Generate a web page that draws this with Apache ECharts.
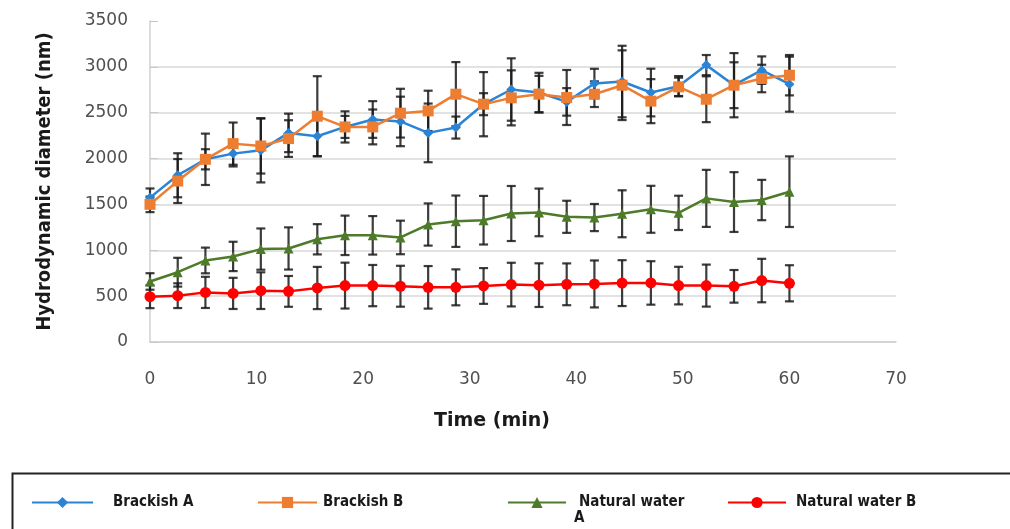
<!DOCTYPE html>
<html>
<head>
<meta charset="utf-8">
<script src="https://cdn.jsdelivr.net/npm/echarts@6/dist/echarts.min.js"></script>
<style>html,body{margin:0;padding:0;background:#fff;}#chart{width:1010px;height:529px;}</style>
</head>
<body>
<div id="chart"></div>
<script>
// Time points (min)
var times = [0, 2.6, 5.2, 7.8, 10.4, 13.0, 15.7, 18.3, 20.9, 23.5, 26.1, 28.7, 31.3, 33.9, 36.5, 39.1, 41.7, 44.3, 47.0, 49.6, 52.2, 54.8, 57.4, 60];
var xTicks = [0, 10, 20, 30, 40, 50, 60, 70];
var yTicks = [0, 500, 1000, 1500, 2000, 2500, 3000, 3500];

var brackishA    = [1574, 1818, 1992, 2054, 2090, 2280, 2243, 2345, 2426, 2405, 2280, 2338, 2593, 2753, 2720, 2618, 2819, 2840, 2720, 2789, 3019, 2800, 2964, 2811];
var brackishAErr = [100, 240, 110, 140, 350, 210, 218, 120, 200, 270, 320, 120, 350, 340, 215, 150, 160, 390, 260, 110, 110, 350, 150, 300];

var brackishB    = [1501, 1755, 1992, 2163, 2137, 2218, 2462, 2345, 2345, 2495, 2520, 2702, 2593, 2662, 2702, 2666, 2702, 2800, 2626, 2782, 2647, 2800, 2873, 2909];
var brackishBErr = [85, 240, 280, 230, 300, 200, 436, 170, 190, 266, 220, 350, 120, 300, 200, 300, 140, 380, 240, 100, 250, 250, 150, 220];

var naturalA     = [660, 761, 889, 933, 1013, 1020, 1120, 1163, 1163, 1140, 1281, 1317, 1328, 1401, 1413, 1365, 1357, 1398, 1447, 1408, 1566, 1526, 1548, 1639];
var naturalAErr  = [90, 157, 140, 160, 225, 230, 165, 215, 210, 183, 230, 280, 265, 300, 260, 175, 148, 256, 256, 187, 311, 326, 220, 385];

var naturalB     = [494, 505, 541, 530, 560, 552, 589, 615, 615, 608, 596, 596, 611, 626, 620, 629, 633, 642, 644, 615, 615, 607, 670, 640];
var naturalBErr  = [125, 135, 170, 170, 200, 168, 230, 250, 225, 223, 232, 196, 195, 238, 238, 228, 256, 250, 237, 205, 229, 178, 237, 197];

var names = ['Brackish A', 'Brackish B', 'Natural water A', 'Natural water B'];
var colors = ['#2a84d6', '#ed7d31', '#4e7b2a', '#ff0000'];
var symbols = ['diamond', 'rect', 'triangle', 'circle'];
var symbolSizes = [10, 11, 10, 11];
var values = [brackishA, brackishB, naturalA, naturalB];
var errs = [brackishAErr, brackishBErr, naturalAErr, naturalBErr];

function pts(v) { return times.map(function (t, i) { return [t, v[i]]; }); }
function errData(v, e) { return times.map(function (t, i) { return [t, v[i] - e[i], v[i] + e[i]]; }); }

function renderErr(params, api) {
  var x = api.value(0);
  var lo = api.coord([x, api.value(1)]);
  var hi = api.coord([x, api.value(2)]);
  var w = 4.5;
  var st = { stroke: '#1a1a1a', lineWidth: 2.2, opacity: 0.85 };
  return {
    type: 'group',
    children: [
      { type: 'line', shape: { x1: lo[0], y1: lo[1], x2: hi[0], y2: hi[1] }, style: st },
      { type: 'line', shape: { x1: lo[0] - w, y1: lo[1], x2: lo[0] + w, y2: lo[1] }, style: st },
      { type: 'line', shape: { x1: hi[0] - w, y1: hi[1], x2: hi[0] + w, y2: hi[1] }, style: st }
    ]
  };
}

var series = [];
for (var k = 0; k < 4; k++) {
  series.push({
    type: 'custom', name: names[k] + ' err', renderItem: renderErr,
    data: errData(values[k], errs[k]), z: 1, silent: true,
    encode: { x: 0, y: [1, 2] }
  });
}
for (var k2 = 0; k2 < 4; k2++) {
  series.push({
    type: 'line', name: names[k2], data: pts(values[k2]),
    symbol: symbols[k2], symbolSize: symbolSizes[k2],
    lineStyle: { color: colors[k2], width: 2.5 },
    itemStyle: { color: colors[k2] },
    z: 3
  });
}

var legTxt = { fontFamily: 'DejaVu Sans Condensed', fontWeight: 'bold', fontSize: 15, color: '#1a1a1a' };
function leg(name, left, w, pad, label) {
  return {
    data: [name], left: left, top: 490, itemWidth: w, itemHeight: 14,
    selectedMode: false,
    formatter: function () { return label; },
    textStyle: Object.assign({ padding: [0, 0, 0, pad] }, legTxt)
  };
}

var chart = echarts.init(document.getElementById('chart'));
chart.setOption({
  animation: false,
  backgroundColor: '#fff',
  grid: { left: 150, right: 114, top: 21, bottom: 187 },
  xAxis: {
    type: 'value', min: 0, max: 70, interval: 10,
    axisLine: { show: true, lineStyle: { color: '#d0d0d0', width: 1.5 } },
    axisTick: { show: false },
    splitLine: { show: false },
    axisLabel: { margin: 29, fontFamily: 'DejaVu Sans', fontSize: 17, color: '#505050',
      formatter: function (v) { return xTicks.indexOf(v) >= 0 ? String(v) : ''; } },
    name: 'Time (min)', nameLocation: 'middle', nameGap: 70,
    nameTextStyle: { fontFamily: 'DejaVu Sans', fontWeight: 'bold', fontSize: 19, color: '#1a1a1a', padding: [0, 62, 0, 0] }
  },
  yAxis: {
    type: 'value', min: 0, max: 3500, interval: 500,
    axisLine: { show: true, lineStyle: { color: '#d0d0d0', width: 1.5 } },
    axisTick: { show: true, inside: true, length: 8, lineStyle: { color: '#c8c8c8' } },
    splitLine: { show: true, lineStyle: { color: ['#d9d9d9', '#d9d9d9', '#d9d9d9', '#d9d9d9', '#d9d9d9', '#d9d9d9', '#d9d9d9', 'rgba(0,0,0,0)'], width: 1.5 } },
    axisLabel: { margin: 22, fontFamily: 'DejaVu Sans', fontSize: 17, color: '#505050',
      formatter: function (v) { return yTicks.indexOf(v) >= 0 ? String(v) : ''; } },
    name: 'Hydrodynamic diameter (nm)', nameLocation: 'middle', nameGap: 95, nameRotate: 90,
    nameTextStyle: { fontFamily: 'DejaVu Sans Condensed', fontWeight: 'bold', fontSize: 20, color: '#1a1a1a' }
  },
  legend: [
    leg('Brackish A', 26, 61, 15, 'Brackish A'),
    leg('Brackish B', 252, 59, 1, 'Brackish B'),
    leg('Natural water A', 502, 58, 8, 'Natural water'),
    leg('Natural water B', 722, 58, 5, 'Natural water B')
  ],
  graphic: [
    { type: 'rect', left: 10, top: 471, shape: { width: 1010, height: 70 }, style: { fill: 'none', stroke: '#222', lineWidth: 2 }, silent: true },
    { type: 'text', left: 574, top: 511, style: { text: 'A', font: 'bold 15px "DejaVu Sans Condensed"', fill: '#1a1a1a' }, silent: true }
  ],
  series: series
});
</script>
</body>
</html>
